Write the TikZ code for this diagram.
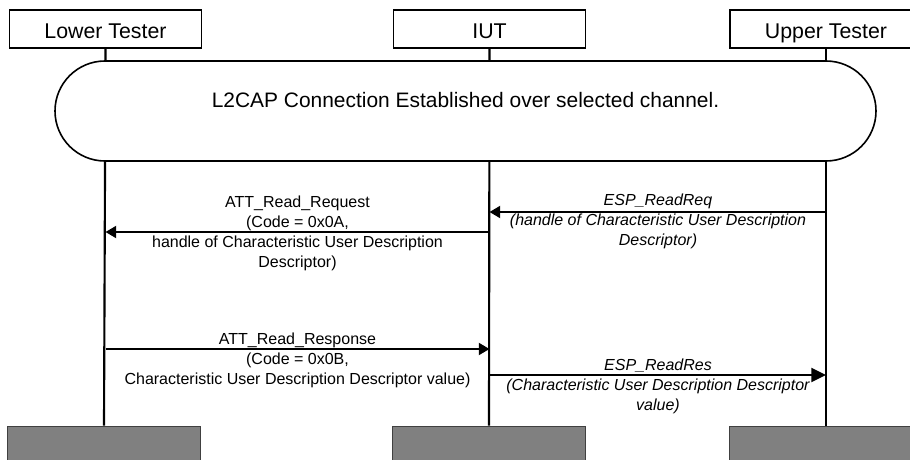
\documentclass[tikz,border=0pt]{standalone}
\usepackage{fontspec}
\setmainfont{Liberation Sans}
\usetikzlibrary{arrows.meta}
\begin{document}
\begin{tikzpicture}[x=0.75pt,y=-0.75pt,
	font=\fontsize{12}{15}\selectfont,
	actor/.style={draw,line width=0.9pt,minimum width=144pt,minimum height=28.5pt,inner sep=0pt,
	   font=\fontsize{16}{19}\selectfont,text height=14.5pt,text depth=0pt},
	sink/.style={draw=black!75,fill=black!50,minimum width=145pt,minimum height=45pt,inner sep=0pt},
	lifeline/.style={line width=1.6pt},
	msg/.style={line width=1.4pt,-{Triangle[length=8pt,width=9pt]}},
	note/.style={align=center,inner sep=0pt}]
	\clip (0,0) rectangle (910,460);

	\node[actor] (lt) at (105.5,29) {Lower Tester};
	\node[actor] (iut) at (489.5,29) {IUT};
	\node[actor] (ut) at (826,29) {Upper Tester};

	\node[sink] (ltend) at (104,456) {};
	\node[sink] (iutend) at (489,456) {};
	\node[sink] (utend) at (826,456) {};

	\foreach \n in {lt,iut,ut}{
	   \draw[lifeline] (\n.south) -- (\n end.north);
	}

	\node[draw,line width=1.2pt,fill=white,rounded corners=37.5pt,
	      minimum width=615.75pt,minimum height=75pt] (conn) at (465.5,111) {};
	\node (conntext) at (465.5,100) {\fontsize{15.7}{19}\selectfont L2CAP Connection Established over selected channel.};

	\coordinate (req-ut) at (ut |- 0,212);
	\coordinate (req-iut) at (iut |- 0,212);
	\coordinate (att-iut) at (iut |- 0,232);
	\coordinate (att-lt) at (lt |- 0,232);
	\coordinate (rsp-lt) at (lt |- 0,349);
	\coordinate (rsp-iut) at (iut |- 0,349);
	\coordinate (res-iut) at (iut |- 0,375);
	\coordinate (res-ut) at (ut |- 0,375);

	\node[note,font=\fontsize{12}{15}\selectfont\itshape] (reqtext) at (658,221)
	   {ESP\_ReadReq\\(handle of Characteristic User Description\\Descriptor)};
	\node[note] (atttext) at (297.5,233)
	   {ATT\_Read\_Request\\(Code = 0x0A,\\handle of Characteristic User Description\\Descriptor)};
	\node[note] (rsptext) at (297.5,360)
	   {ATT\_Read\_Response\\(Code = 0x0B,\\Characteristic User Description Descriptor value)};
	\node[note,font=\fontsize{12}{15}\selectfont\itshape] (restext) at (658,386)
	   {ESP\_ReadRes\\(Characteristic User Description Descriptor\\value)};

	\draw[msg] (req-ut) -- (req-iut);
	\draw[msg] (att-iut) -- (att-lt);
	\draw[msg] (rsp-lt) -- (rsp-iut);
	\draw[msg,-{Triangle[length=11pt,width=10.5pt]}] (res-iut) -- (res-ut);
\end{tikzpicture}
\end{document}
